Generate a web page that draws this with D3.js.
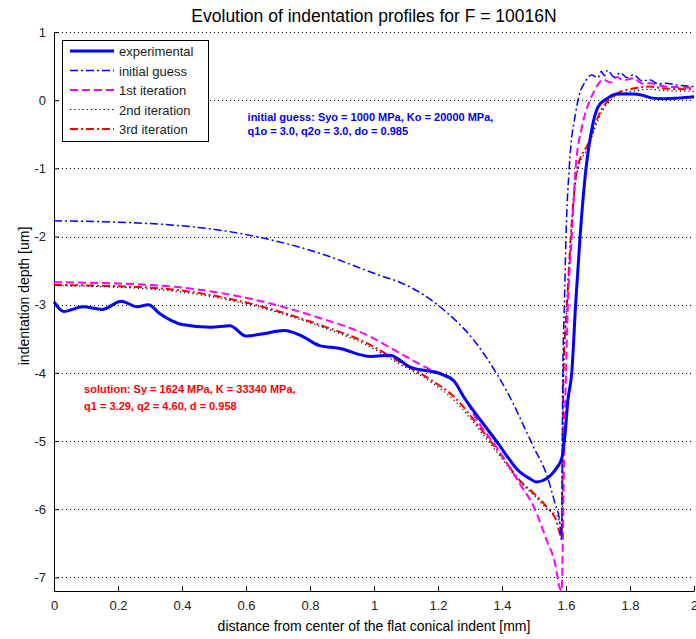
<!DOCTYPE html>
<html>
<head>
<meta charset="utf-8">
<script src="https://cdn.jsdelivr.net/npm/d3@7"></script>
<style>
  body { margin: 0; background: #fff; }
  svg text { font-family: "Liberation Sans", Arial, sans-serif; }
</style>
</head>
<body>
<div id="vis"></div>
<script>
// experimental profile
const expX = [0, 0.03, 0.09, 0.15, 0.21, 0.26, 0.295, 0.33, 0.4, 0.49, 0.55, 0.6, 0.65, 0.72, 0.77, 0.83, 0.89, 0.99, 1.05, 1.11, 1.21, 1.25, 1.28, 1.31, 1.35, 1.39, 1.42, 1.446, 1.49, 1.508, 1.54, 1.57, 1.587, 1.597, 1.606, 1.618, 1.63, 1.644, 1.6625, 1.68, 1.7, 1.73, 1.76, 1.81, 1.84, 1.87, 1.91, 1.95, 2.0];
const expY = [-2.96, -3.1, -3.03, -3.07, -2.95, -3.03, -3.0, -3.13, -3.29, -3.33, -3.31, -3.46, -3.43, -3.38, -3.45, -3.6, -3.64, -3.76, -3.74, -3.91, -4.02, -4.12, -4.35, -4.55, -4.8, -5.05, -5.25, -5.41, -5.56, -5.6, -5.55, -5.4, -5.25, -4.9, -4.4, -4.0, -3.0, -2.0, -1.0, -0.44, -0.1, 0.03, 0.09, 0.09, 0.07, 0.03, 0.02, 0.03, 0.05];

// initial guess
const guessX = [0, 0.3, 0.61, 0.82, 1.03, 1.08, 1.206, 1.32, 1.383, 1.435, 1.47, 1.5, 1.54, 1.566, 1.58, 1.586, 1.59, 1.595, 1.6, 1.61, 1.63, 1.64, 1.66, 1.68, 1.7, 1.71, 1.72, 1.73, 1.75, 1.77, 1.79, 1.81, 1.84, 1.86, 1.89, 1.91, 1.95, 2.0];
const guessY = [-1.77, -1.81, -1.98, -2.23, -2.59, -2.67, -3.03, -3.57, -4.01, -4.45, -4.8, -5.1, -5.5, -5.92, -6.17, -6.45, -4.0, -3.0, -2.0, -1.0, -0.19, 0.05, 0.27, 0.37, 0.33, 0.42, 0.36, 0.44, 0.34, 0.40, 0.33, 0.37, 0.28, 0.30, 0.24, 0.25, 0.22, 0.2];

// 1st iteration
const it1X = [0, 0.3, 0.61, 0.82, 0.98, 1.08, 1.18, 1.24, 1.33, 1.39, 1.456, 1.5, 1.54, 1.566, 1.58, 1.586, 1.595, 1.606, 1.618, 1.63, 1.65, 1.675, 1.69, 1.716, 1.74, 1.76, 1.78, 1.81, 1.84, 1.86, 1.91, 1.95, 2.0];
const it1Y = [-2.67, -2.71, -2.91, -3.18, -3.45, -3.71, -3.96, -4.08, -4.75, -5.14, -5.63, -5.97, -6.46, -6.8, -7.15, -7.2, -5.0, -3.0, -2.0, -1.0, -0.39, 0.0, 0.15, 0.3, 0.26, 0.34, 0.29, 0.32, 0.24, 0.25, 0.2, 0.19, 0.18];

// 2nd iteration
const it2X = [0, 0.3, 0.61, 0.82, 0.98, 1.08, 1.18, 1.25, 1.33, 1.39, 1.456, 1.5, 1.54, 1.575, 1.588, 1.592, 1.603, 1.615, 1.635, 1.67, 1.696, 1.716, 1.74, 1.76, 1.81, 1.86, 1.91, 2.0];
const it2Y = [-2.72, -2.77, -3.0, -3.3, -3.6, -3.87, -4.14, -4.4, -4.84, -5.2, -5.6, -5.8, -5.99, -6.12, -6.3, -4.0, -3.0, -2.0, -1.05, -0.68, -0.34, -0.14, 0.0, 0.07, 0.13, 0.16, 0.14, 0.13];

// 3rd iteration
const it3X = [0, 0.3, 0.61, 0.82, 0.98, 1.08, 1.18, 1.25, 1.33, 1.39, 1.456, 1.5, 1.54, 1.57, 1.586, 1.592, 1.603, 1.615, 1.635, 1.67, 1.696, 1.716, 1.74, 1.76, 1.81, 1.86, 1.91, 2.0];
const it3Y = [-2.71, -2.75, -2.98, -3.28, -3.57, -3.84, -4.11, -4.35, -4.8, -5.16, -5.58, -5.77, -5.97, -6.17, -6.41, -4.0, -3.0, -2.0, -1.0, -0.63, -0.29, -0.1, 0.03, 0.1, 0.17, 0.2, 0.17, 0.16];

const xTicks = [0, 0.2, 0.4, 0.6, 0.8, 1, 1.2, 1.4, 1.6, 1.8, 2];
const yTicks = [1, 0, -1, -2, -3, -4, -5, -6, -7];

const series = [
  { name: 'experimental', xs: expX, ys: expY, color: '#0000ff', width: 3, dash: null },
  { name: 'initial guess', xs: guessX, ys: guessY, color: '#0000ff', width: 1.5, dash: '8,3,2,3' },
  { name: '1st iteration', xs: it1X, ys: it1Y, color: '#ff00ff', width: 2, dash: '8,4' },
  { name: '2nd iteration', xs: it2X, ys: it2Y, color: '#000000', width: 1.2, dash: '1.2,3' },
  { name: '3rd iteration', xs: it3X, ys: it3Y, color: '#ff0000', width: 2, dash: '8,3,2,3' }
];

const margin = { top: 32, right: 2, bottom: 48, left: 54 };
const W = 696, H = 639;
const width = W - margin.left - margin.right;
const height = H - margin.top - margin.bottom;

const $svg = d3.select('#vis').append('svg')
  .attr('width', W)
  .attr('height', H);

const $plot = $svg.append('g')
  .attr('transform', `translate(${margin.left}, ${margin.top})`);

const x = d3.scaleLinear().domain([0, 2]).range([0, width]);
const y = d3.scaleLinear().domain([-7.2, 1]).range([height, 0]);

// horizontal grid
$plot.append('g')
  .selectAll('line')
  .data(yTicks)
  .enter().append('line')
  .attr('x1', 0)
  .attr('x2', width)
  .attr('y1', d => Math.round(y(d)) + 0.5)
  .attr('y2', d => Math.round(y(d)) + 0.5)
  .attr('stroke', '#000')
  .attr('stroke-width', 1)
  .attr('stroke-dasharray', '1,3');

// axes (ticks inward)
const xAxis = d3.axisBottom(x).tickValues(xTicks).tickSizeInner(-5).tickSizeOuter(0)
  .tickFormat(d3.format('~g'));
const yAxis = d3.axisLeft(y).tickValues(yTicks).tickSizeInner(-5).tickSizeOuter(0)
  .tickFormat(d => d < 0 ? '-' + Math.abs(d) : d);

$plot.append('g')
  .attr('class', 'axis x')
  .attr('transform', `translate(0, ${height})`)
  .call(xAxis)
  .call(g => g.selectAll('.tick text').attr('dy', '1.2em'));

$plot.append('g')
  .attr('class', 'axis y')
  .call(yAxis)
  .call(g => g.selectAll('.tick text').attr('x', -8));

$plot.selectAll('.axis text')
  .attr('font-size', 13)
  .attr('fill', '#222')
  .style('font-family', '"Liberation Sans", Arial, sans-serif');
$plot.selectAll('.axis .domain, .axis line').attr('stroke', '#000');

// lines
const line = d3.line()
  .x(d => x(d[0]))
  .y(d => y(d[1]))
  .curve(d3.curveMonotoneX);

$plot.append('g')
  .selectAll('path')
  .data(series.slice().reverse())
  .enter().append('path')
  .attr('d', d => line(d.xs.map((v, i) => [v, d.ys[i]])))
  .attr('fill', 'none')
  .attr('stroke', d => d.color)
  .attr('stroke-width', d => d.width)
  .attr('stroke-dasharray', d => d.dash)
  .attr('stroke-linejoin', 'round');

// annotations
const $notes = $plot.append('g').attr('font-weight', 'bold').attr('font-size', 11);
$notes.append('text')
  .attr('x', x(0.605)).attr('y', y(-0.3))
  .attr('fill', '#0000ff')
  .text('initial guess: Syo = 1000 MPa, Ko = 20000 MPa,');
$notes.append('text')
  .attr('x', x(0.605)).attr('y', y(-0.51))
  .attr('fill', '#0000ff')
  .text('q1o = 3.0, q2o = 3.0, do = 0.985');
$notes.append('text')
  .attr('x', x(0.094)).attr('y', y(-4.3))
  .attr('fill', '#ff0000')
  .text('solution: Sy = 1624 MPa, K = 33340 MPa,');
$notes.append('text')
  .attr('x', x(0.094)).attr('y', y(-4.54))
  .attr('fill', '#ff0000')
  .text('q1 = 3.29, q2 = 4.60, d = 0.958');

// legend
const $legend = $svg.append('g').attr('transform', 'translate(62, 40)');
$legend.append('rect')
  .attr('x', 0.5).attr('y', 0.5)
  .attr('width', 146).attr('height', 101)
  .attr('fill', '#fff')
  .attr('stroke', '#000');

const $items = $legend.selectAll('g.item')
  .data(series)
  .enter().append('g')
  .attr('class', 'item')
  .attr('transform', (d, i) => `translate(0, ${11 + i * 19.5})`);

$items.append('line')
  .attr('x1', 8).attr('x2', 52)
  .attr('stroke', d => d.color)
  .attr('stroke-width', d => d.width)
  .attr('stroke-dasharray', d => d.dash);

$items.append('text')
  .attr('x', 57).attr('y', 5)
  .attr('font-size', 13)
  .attr('fill', '#222')
  .text(d => d.name);

// titles
$svg.append('text')
  .attr('x', margin.left + width / 2).attr('y', 22)
  .attr('text-anchor', 'middle')
  .attr('font-size', 17.5)
  .text('Evolution of indentation profiles for F = 10016N');

$svg.append('text')
  .attr('x', margin.left + width / 2).attr('y', 631)
  .attr('text-anchor', 'middle')
  .attr('font-size', 14)
  .text('distance from center of the flat conical indent [mm]');

$svg.append('text')
  .attr('transform', `translate(29, 296) rotate(-90)`)
  .attr('text-anchor', 'middle')
  .attr('font-size', 14)
  .text('indentation depth [um]');
</script>
</body>
</html>
